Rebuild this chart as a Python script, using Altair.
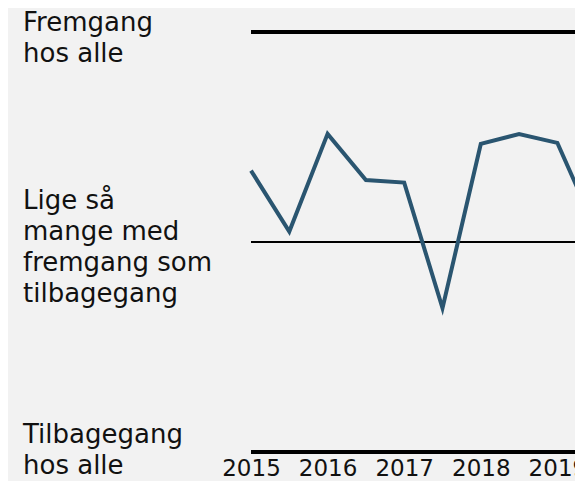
import altair as alt
import pandas as pd

# Half-yearly observations
periods = [2015, 2015.5, 2016, 2016.5, 2017, 2017.5, 2018, 2018.5, 2019, 2019.5]
balance = [0.34, 0.05, 0.515, 0.295, 0.283, -0.315, 0.467, 0.514, 0.472, 0.06]

tick_years = [2015, 2016, 2017, 2018, 2019]

label_top = "Fremgang\nhos alle"
label_mid = "Lige så\nmange med\nfremgang som\ntilbagegang"
label_bot = "Tilbagegang\nhos alle"

df = pd.DataFrame({"period": periods, "balance": balance})

x_scale = alt.Scale(domain=[2015, 2019.23], nice=False, zero=False)
y_scale = alt.Scale(domain=[-1, 1], nice=False, zero=False)

line = alt.Chart(df).mark_line(color="#2a5570", strokeWidth=4, strokeJoin="miter").encode(
    x=alt.X("period:Q", scale=x_scale, title=None,
            axis=alt.Axis(values=tick_years, format="d", grid=False, domain=False,
                          ticks=False, tickSize=0, labelPadding=5, labelFontSize=23,
                          labelColor="#111111", labelFont="DejaVu Sans", labelFlush=False,
                          labelOverlap=False)),
    y=alt.Y("balance:Q", scale=y_scale, axis=None),
)

thick = alt.Chart(pd.DataFrame({"v": [1, -1]})).mark_rule(color="#000000", strokeWidth=4).encode(
    y=alt.Y("v:Q", scale=y_scale, axis=None)
)
thin = alt.Chart(pd.DataFrame({"v": [0]})).mark_rule(color="#000000", strokeWidth=2).encode(
    y=alt.Y("v:Q", scale=y_scale, axis=None)
)

def lbl(val, text, dy):
    return alt.Chart(pd.DataFrame({"v": [val], "t": [text]})).mark_text(
        align="left", baseline="alphabetic", fontSize=26, font="DejaVu Sans",
        color="#111111", lineBreak="\n", lineHeight=31, dy=dy
    ).encode(x=alt.value(-228), y=alt.Y("v:Q", scale=y_scale, axis=None), text="t:N")

chart = alt.layer(
    thick, thin, line,
    lbl(1, label_top, -1),
    lbl(0, label_mid, -33),
    lbl(-1, label_bot, -9),
).properties(
    width=324, height=420,
    autosize=alt.AutoSizeParams(type="none"),
    padding={"left": 243, "top": 24, "right": 0, "bottom": 29},
    background="#f2f2f2",
).configure_view(stroke=None)

chart.save("out.html", embed_options={"renderer": "svg", "actions": False})
